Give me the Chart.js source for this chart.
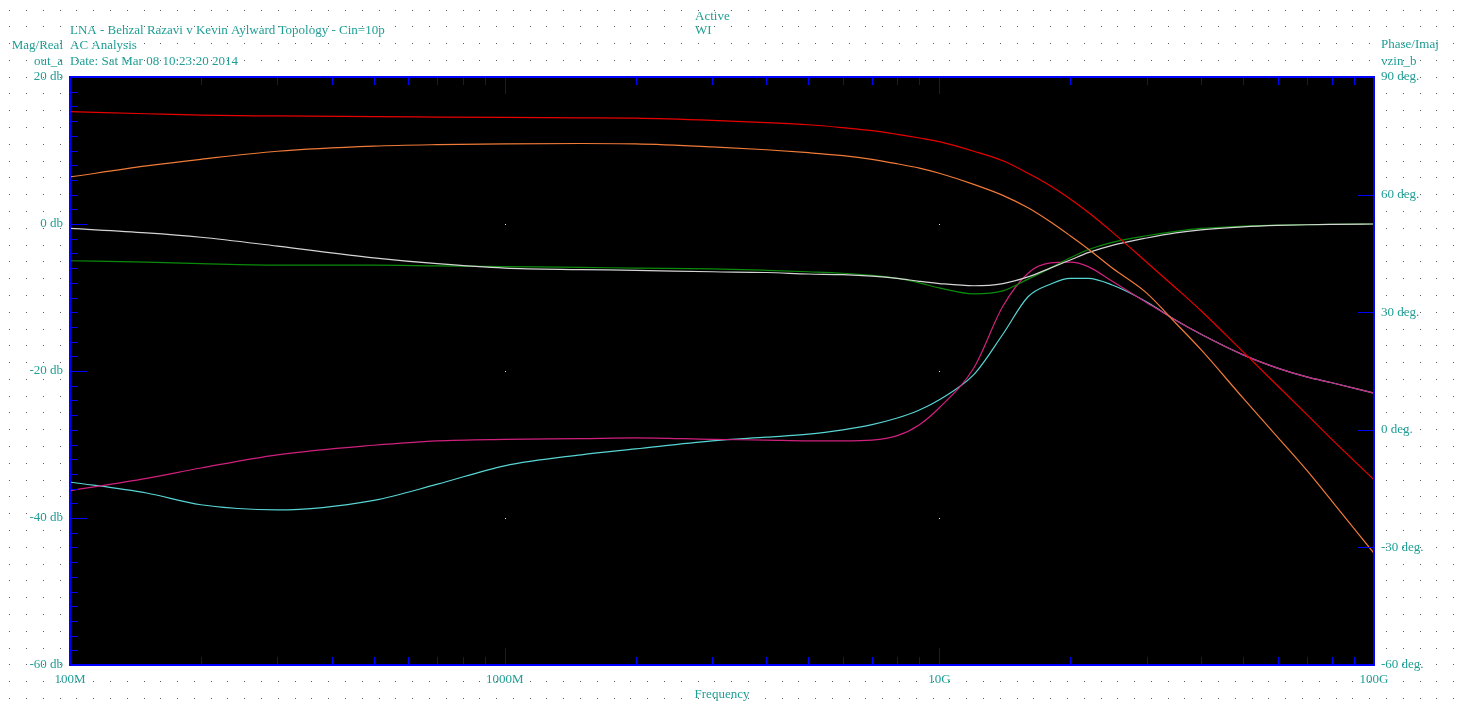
<!DOCTYPE html>
<html>
<head>
<meta charset="utf-8">
<title>LNA AC Analysis</title>
<script src="https://cdn.jsdelivr.net/npm/chart.js@4/dist/chart.umd.min.js"></script>
<style>
  html, body { margin: 0; padding: 0; background: #ffffff; }
  canvas { display: block; }
</style>
</head>
<body>
<canvas id="c" width="1459" height="704"></canvas>
<script>
// Sweep frequencies (Hz)
const freqs = [1e8, 1.5e8, 2e8, 3e8, 5e8, 7e8, 1e9, 1.5e9, 2e9, 3e9, 4e9, 5e9, 6e9, 7e9, 8e9, 9e9,
  1e10, 1.2e10, 1.4e10, 1.6e10, 1.8e10, 2e10, 2.2e10, 2.5e10, 3e10, 3.5e10, 4e10, 5e10, 6e10, 7e10, 8e10, 1e11];

// Traces (db)
const redTrace = [15.3, 15.0, 14.8, 14.7, 14.6, 14.55, 14.5, 14.45, 14.4, 14.1, 13.8, 13.5, 13.1, 12.7, 12.2, 11.7,
  11.2, 9.9, 8.6, 6.9, 5.2, 3.4, 1.6, -1.1, -5.2, -8.7, -11.8, -17.4, -22.0, -25.9, -29.3, -34.8];
const orangeTrace = [6.4, 7.9, 8.8, 9.9, 10.6, 10.8, 10.9, 10.95, 10.9, 10.5, 10.1, 9.7, 9.3, 8.8, 8.2, 7.6,
  6.9, 5.4, 3.9, 2.2, 0.3, -1.6, -3.4, -6.0, -9.4, -13.5, -17.1, -23.7, -29.0, -33.5, -37.7, -44.8];
const whiteTrace = [-0.6, -1.2, -1.8, -3.0, -4.6, -5.4, -6.0, -6.2, -6.3, -6.5, -6.6, -6.8, -6.9, -7.1, -7.4, -7.8,
  -8.1, -8.4, -8.1, -7.2, -6.0, -4.9, -3.9, -2.9, -1.9, -1.2, -0.8, -0.4, -0.2, -0.1, -0.05, 0.0];
const greenTrace = [-5.0, -5.2, -5.4, -5.6, -5.6, -5.7, -5.8, -5.9, -6.0, -6.1, -6.3, -6.5, -6.7, -7.0, -7.4, -8.0,
  -8.7, -9.5, -9.1, -7.5, -6.0, -4.6, -3.5, -2.5, -1.6, -1.0, -0.6, -0.3, -0.15, -0.1, -0.05, 0.0];
const magentaTrace = [-36.3, -34.6, -33.2, -31.4, -30.1, -29.5, -29.3, -29.2, -29.1, -29.3, -29.4, -29.5, -29.5, -29.4, -28.8, -27.3,
  -25.0, -19.6, -11.2, -6.7, -5.3, -5.2, -5.8, -7.8, -10.7, -13.1, -15.0, -17.8, -19.6, -20.8, -21.6, -23.0];
const cyanTrace = [-35.1, -36.6, -38.2, -38.9, -37.6, -35.4, -32.9, -31.4, -30.6, -29.5, -29.0, -28.6, -28.0, -27.3, -26.4, -25.3,
  -23.9, -20.5, -15.0, -9.9, -8.2, -7.4, -7.4, -8.3, -10.6, -13.1, -15.0, -17.8, -19.6, -20.8, -21.6, -23.0];

// Axis tick values and labels
const freqTickValues = [1e8, 1e9, 1e10, 1e11];
const freqTickLabels = ['100M', '1000M', '10G', '100G'];
const magTickValues = [20, 0, -20, -40, -60];
const phaseTickValues = [90, 60, 30, 0, -30, -60];

const TEXT = '#1f9e94';
const BLUE = '#0000ff';
const FONT = "'Liberation Serif', 'Times New Roman', serif";

Chart.defaults.font.family = FONT;
Chart.defaults.font.size = 13;
Chart.defaults.color = TEXT;

function series(label, data, color) {
  return {
    label, color,
    data: freqs.map((f, i) => ({ x: f, y: data[i] })),
    borderColor: color,
    borderWidth: 1.2,
    pointRadius: 0,
    cubicInterpolationMode: 'monotone',
    yAxisID: 'y'
  };
}

const sheet = {
  id: 'sheet',
  beforeDraw(chart) {
    const ctx = chart.ctx;
    const a = chart.chartArea;
    ctx.save();
    ctx.fillStyle = '#ffffff';
    ctx.fillRect(0, 0, chart.width, chart.height);
    // dotted paper
    ctx.fillStyle = '#5a5a5a';
    const step = 16.79;
    for (let x = 9.2; x < chart.width; x += step) {
      for (let y = 9.5; y < chart.height; y += step) {
        ctx.fillRect(Math.round(x), Math.round(y), 1, 1);
      }
    }
    // plot field
    ctx.fillStyle = '#000000';
    ctx.fillRect(a.left, a.top, a.right - a.left, a.bottom - a.top);
    // major intersections
    const xs = chart.scales.x, ys = chart.scales.y;
    ctx.fillStyle = '#e8e8e8';
    [1e9, 1e10].forEach(f => {
      [0, -20, -40].forEach(v => {
        ctx.fillRect(Math.round(xs.getPixelForValue(f)), Math.round(ys.getPixelForValue(v)), 1, 1);
      });
    });
    ctx.restore();
  },
  afterDraw(chart) {
    const ctx = chart.ctx;
    const a = chart.chartArea;
    const xs = chart.scales.x, ys = chart.scales.y, ps = chart.scales.y2;
    ctx.save();
    ctx.strokeStyle = BLUE;
    ctx.lineWidth = 1;
    ctx.beginPath();
    // frequency ticks, bottom and top edges
    for (let d = 1e8; d < 1e11; d *= 10) {
      for (let m = 1; m <= 9; m++) {
        if (m === 1 && d === 1e8) continue;
        const px = Math.round(xs.getPixelForValue(m * d)) + 0.5;
        const len = m === 1 ? 17 : 8;
        ctx.moveTo(px, a.bottom); ctx.lineTo(px, a.bottom - len);
        ctx.moveTo(px, a.top); ctx.lineTo(px, a.top + len);
      }
    }
    // magnitude ticks, left edge
    for (let v = -58; v <= 18; v += 2) {
      const py = Math.round(ys.getPixelForValue(v)) + 0.5;
      const len = v % 20 === 0 ? 17 : 8;
      ctx.moveTo(a.left, py); ctx.lineTo(a.left + len, py);
    }
    // phase ticks, right edge
    [60, 30, 0, -30].forEach(v => {
      const py = Math.round(ps.getPixelForValue(v)) + 0.5;
      ctx.moveTo(a.right, py); ctx.lineTo(a.right - 16, py);
    });
    ctx.stroke();
    // frame
    ctx.lineWidth = 2;
    ctx.strokeRect(a.left, a.top, a.right - a.left, a.bottom - a.top);

    // header texts
    ctx.fillStyle = TEXT;
    ctx.font = '13px ' + FONT;
    ctx.textBaseline = 'middle';
    ctx.textAlign = 'left';
    ctx.fillText('LNA - Behzal Razavi v Kevin Aylward Topology - Cin=10p', 70, 31);
    ctx.fillText('AC Analysis', 70, 46);
    ctx.fillText('Date: Sat Mar 08 10:23:20 2014', 70, 62);
    ctx.fillText('Active', 695, 17);
    ctx.fillText('WI', 695, 31);
    ctx.fillText('Phase/Imaj', 1381, 45);
    ctx.fillText('vzin_b', 1381, 62);
    ctx.textAlign = 'right';
    ctx.fillText('Mag/Real', 63, 46);
    ctx.fillText('out_a', 63, 62);
    ctx.restore();
  }
};

new Chart(document.getElementById('c'), {
  type: 'line',
  data: {
    datasets: [
      series('out_a', redTrace, '#e80000'),
      series('trace 2', orangeTrace, '#f07a38'),
      series('trace 3', whiteTrace, '#d4d4d4'),
      series('trace 4', greenTrace, '#0a8a0a'),
      series('trace 5', magentaTrace, '#d0207e'),
      series('vzin_b', cyanTrace, '#58d4d4')
    ]
  },
  options: {
    responsive: false,
    animation: false,
    events: [],
    layout: { padding: { top: 77, left: 0, right: 0, bottom: 0 } },
    plugins: { legend: { display: false }, tooltip: { enabled: false } },
    scales: {
      x: {
        type: 'logarithmic',
        position: 'bottom',
        min: 1e8, max: 1e11,
        grid: { display: false, drawTicks: false },
        border: { display: false },
        afterBuildTicks(s) { s.ticks = freqTickValues.map(v => ({ value: v })); },
        afterFit(s) { s.height = 39; },
        ticks: {
          autoSkip: false, maxRotation: 0, padding: 7,
          color: TEXT,
          callback(v) { const i = freqTickValues.indexOf(v); return i >= 0 ? freqTickLabels[i] : ''; }
        },
        title: { display: true, text: 'Frequency', color: TEXT, padding: { top: 0, bottom: 2 } }
      },
      y: {
        position: 'left',
        min: -60, max: 20,
        grid: { display: false, drawTicks: false },
        border: { display: false },
        afterBuildTicks(s) { s.ticks = magTickValues.map(v => ({ value: v })); },
        afterFit(s) { s.width = 70; },
        ticks: { padding: 7, color: TEXT, callback: v => v + ' db' }
      },
      y2: {
        position: 'right',
        min: -60, max: 90,
        grid: { display: false, drawTicks: false },
        border: { display: false },
        afterBuildTicks(s) { s.ticks = phaseTickValues.map(v => ({ value: v })); },
        afterFit(s) { s.width = 85; },
        ticks: { padding: 7, color: TEXT, callback: v => v + ' deg.' }
      }
    }
  },
  plugins: [sheet]
});
</script>
</body>
</html>
